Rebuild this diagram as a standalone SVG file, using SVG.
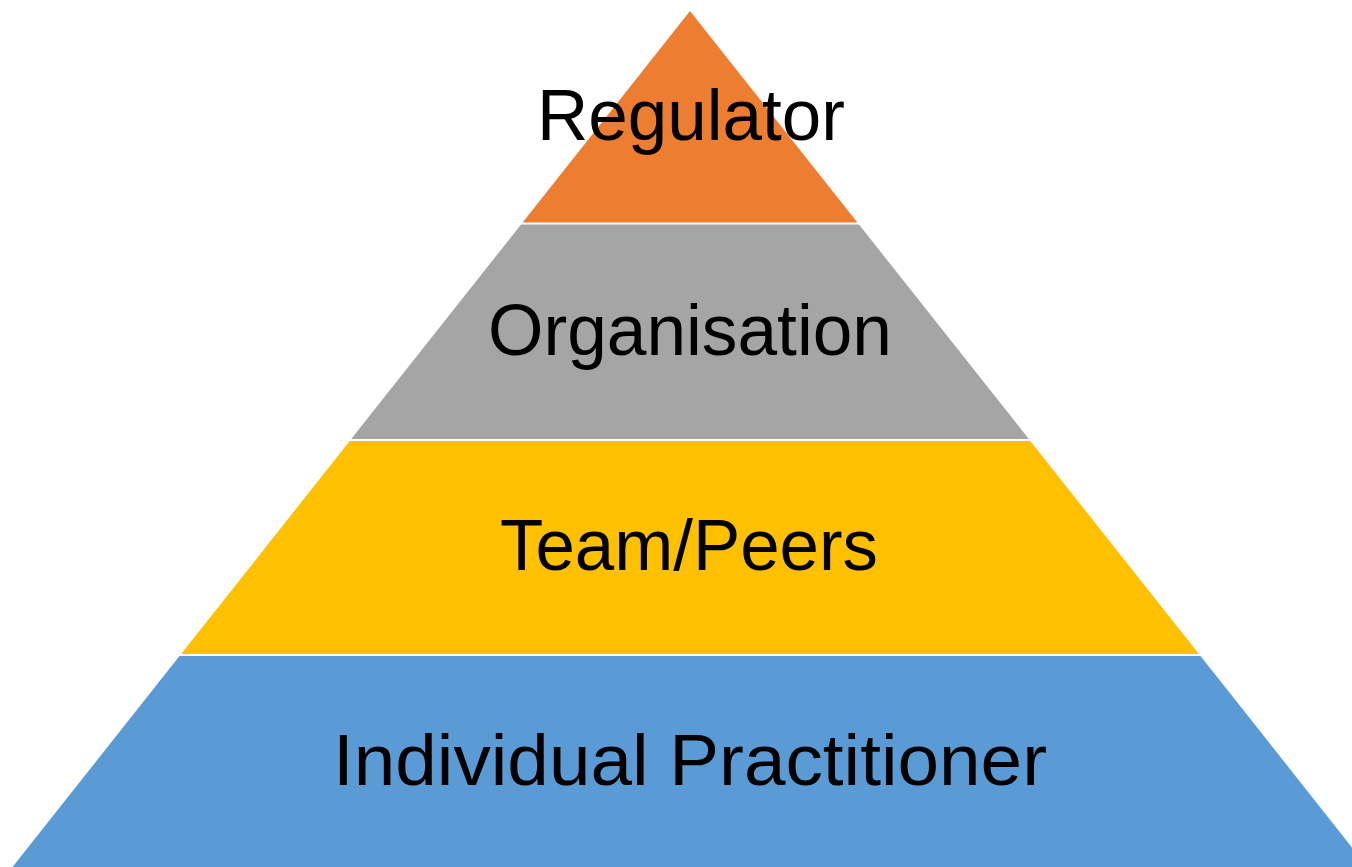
<svg xmlns="http://www.w3.org/2000/svg" width="1352" height="867" viewBox="0 0 1352 867">
<style>
.lbl{font-family:"Liberation Sans",Arial,sans-serif;font-size:72px;fill:#000;text-anchor:middle}
</style>
<rect x="0" y="0" width="1352" height="867" fill="#fff"/>
<g id="regulator">
<polygon points="690,11 857.4,222.5 522.6,222.5" fill="#ED7D31"/>
<text class="lbl" x="691" y="140" textLength="308" lengthAdjust="spacingAndGlyphs">Regulator</text>
</g>
<g id="organisation">
<polygon points="521,224.5 859,224.5 1028.8,439 351.2,439" fill="#A5A5A5"/>
<text class="lbl" x="690" y="355" textLength="404" lengthAdjust="spacingAndGlyphs">Organisation</text>
</g>
<g id="team">
<polygon points="349.7,441 1030.3,441 1198.9,654 181.1,654" fill="#FFC000"/>
<text class="lbl" x="689" y="570" textLength="378" lengthAdjust="spacingAndGlyphs">Team/Peers</text>
</g>
<g id="individual">
<polygon points="179.5,656 1200.5,656 1367.5,867 12.5,867" fill="#5B9BD5"/>
<text class="lbl" x="690" y="785" textLength="714" lengthAdjust="spacingAndGlyphs">Individual Practitioner</text>
</g>
<g id="connectors"></g>
</svg>
